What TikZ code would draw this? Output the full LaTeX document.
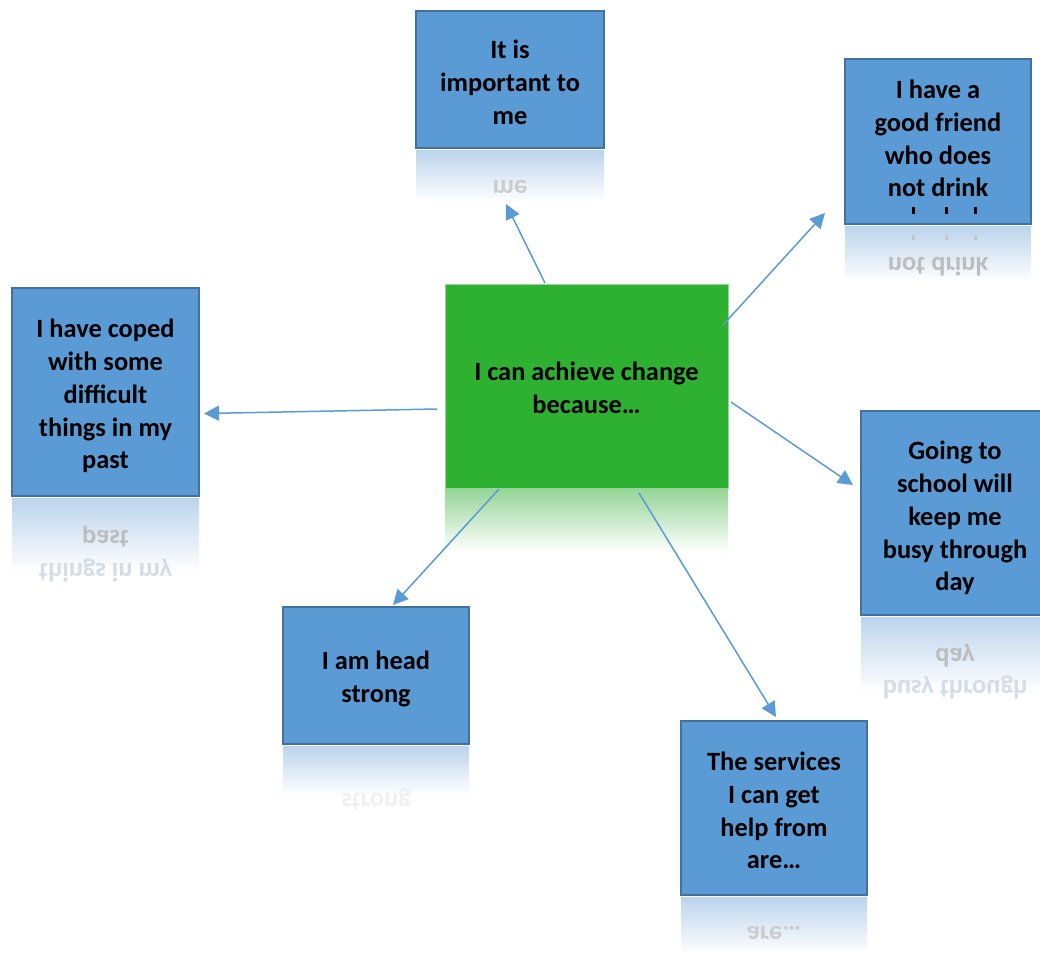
\documentclass[tikz,border=0pt]{standalone}
\usepackage{fontspec}
\usepackage{graphicx}
\setmainfont{Carlito}
\usetikzlibrary{arrows.meta}
\definecolor{boxblue}{RGB}{91,155,213}
\definecolor{boxedge}{RGB}{65,113,156}
\definecolor{ctrgreen}{RGB}{46,177,48}
\definecolor{ctredge}{RGB}{150,215,150}
\definecolor{reflblue}{RGB}{188,212,236}
\definecolor{reflgreen}{RGB}{148,212,150}
\definecolor{arrowblue}{RGB}{91,155,213}
\definecolor{faintmir}{RGB}{212,220,232}
\begin{document}
\begin{tikzpicture}[x=0.5pt,y=-0.5pt,
  basetext/.style={align=center, font=\fontsize{13.2}{16.4}\selectfont\bfseries, inner sep=0pt},
  boxtext/.style={basetext, text depth=0pt},
  bluebox/.style={boxtext, draw=boxedge, line width=1pt, fill=boxblue},
  greenbox/.style={boxtext, draw=ctredge, line width=0.4pt, fill=ctrgreen},
  reflb/.style={top color=reflblue, bottom color=white, draw=none},
  reflg/.style={top color=reflgreen, bottom color=white, draw=none},
  mirA/.style={basetext, text=black!26, anchor=base},
  mirB/.style={basetext, text=faintmir, anchor=base},
  conn/.style={draw=arrowblue, line width=0.75pt, -{Triangle[length=7.5pt,width=7.5pt]}}]
\useasboundingbox (0,0) rectangle (1040,954);

% reflections
\shade[reflb] (416,150) rectangle (604,202);
\shade[reflb] (845,226) rectangle (1031,282);
\shade[reflb] (12,498) rectangle (199,572);
\shade[reflb] (861,617) rectangle (1045,692);
\shade[reflb] (283,746) rectangle (469,795);
\shade[reflb] (681,897) rectangle (867,954);
\shade[reflg] (445,488) rectangle (728,552);

% mirrored text in reflections
\node[mirA, text=black!20] (rimp) at (510,180) {\scalebox{1}[-1]{me}};
\node[mirA] (rfr) at (938,257) {\scalebox{1}[-1]{not drink}};
\fill[black!22] (912,235) rectangle (915,240);
\fill[black!22] (945,235) rectangle (948,240);
\fill[black!22] (974,235) rectangle (977,240);
\node[mirA] (rcop1) at (105.5,530) {\scalebox{1}[-1]{past}};
\node[mirB] (rcop2) at (105.5,563) {\scalebox{1}[-1]{things in my}};
\node[mirA] (rsch1) at (955,648) {\scalebox{1}[-1]{day}};
\node[mirB] (rsch2) at (955,680) {\scalebox{1}[-1]{busy through}};
\node[mirB, text=black!6] (rhead) at (376,793) {\scalebox{1}[-1]{strong}};
\node[mirA, text=black!20] (rserv) at (774,926) {\scalebox{1}[-1]{are…}};

% boxes
\node[bluebox, minimum width=94pt, minimum height=68.5pt] (imp) at (510,79.5) {};
\node[boxtext] (imptxt) at (510,82) {It is\\important to\\me};
\node[bluebox, minimum width=93pt, minimum height=82.5pt] (friend) at (938,141.5) {};
\node[boxtext] (friendtxt) at (938,138.5) {I have a\\good friend\\who does\\not drink};
\fill[black] (912,207) rectangle (915,214);
\fill[black] (945,207) rectangle (948,214);
\fill[black] (974,207) rectangle (977,214);
\node[bluebox, minimum width=93.5pt, minimum height=104pt] (coped) at (105.5,392) {};
\node[boxtext] (copedtxt) at (105.5,394) {I have coped\\with some\\difficult\\things in my\\past};
\node[greenbox, minimum width=141.5pt, minimum height=102pt] (ctr) at (586.5,386) {};
\node[boxtext] (ctrtxt) at (586.5,388) {I can achieve change\\because…};
\node[bluebox, minimum width=94pt, minimum height=102pt] (school) at (955,513) {};
\node[boxtext] (schooltxt) at (955,516) {Going to\\school will\\keep me\\busy through\\day};
\node[bluebox, minimum width=93pt, minimum height=68.5pt] (head) at (376,675.5) {};
\node[boxtext] (headtxt) at (376,677) {I am head\\strong};
\node[bluebox, minimum width=93pt, minimum height=87pt] (serv) at (774,808) {};
\node[boxtext] (servtxt) at (774,810.5) {The services\\I can get\\help from\\are…};

% connector end points
\coordinate (s1) at (545,283);  \coordinate (e1) at (506,204);
\coordinate (s2) at (723,325);  \coordinate (e2) at (825,213);
\coordinate (s3) at (437,409);  \coordinate (e3) at (204,413.5);
\coordinate (s4) at (731,402);  \coordinate (e4) at (853,485);
\coordinate (s5) at (499,489);  \coordinate (e5) at (393,605);
\coordinate (s6) at (639,493);  \coordinate (e6) at (776,717);

\draw[conn] (s1) -- (e1);
\draw[conn] (s2) -- (e2);
\draw[conn] (s3) -- (e3);
\draw[conn] (s4) -- (e4);
\draw[conn] (s5) -- (e5);
\draw[conn] (s6) -- (e6);
\end{tikzpicture}
\end{document}
